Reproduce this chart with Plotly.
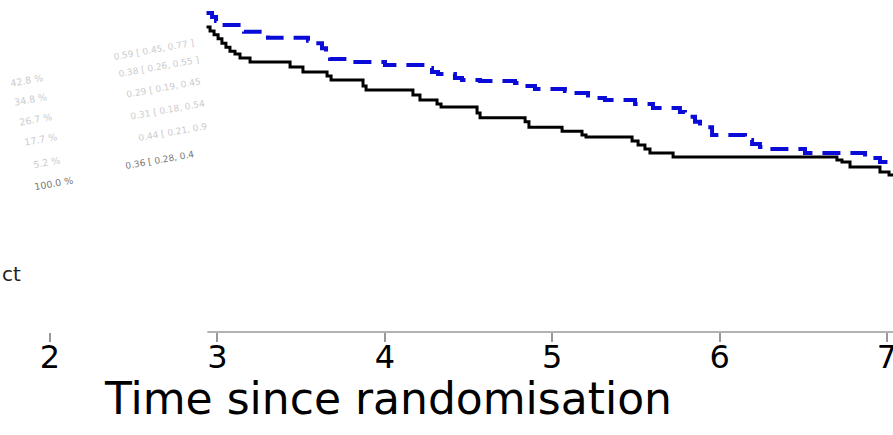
import plotly.graph_objects as go

# Kaplan-Meier style step data (time, survival)
black_t = [2.935, 2.956, 2.980, 3.004, 3.027, 3.051, 3.075, 3.105, 3.135, 3.195,
           3.434, 3.511, 3.655, 3.679, 3.870, 3.888, 4.168, 4.210, 4.312, 4.336,
           4.551, 4.569, 4.838, 4.861, 5.059, 5.178, 5.202, 5.477, 5.513, 5.554,
           5.584, 5.722, 6.701, 6.731, 6.779, 6.958, 7.012, 7.04]
black_s = [0.919, 0.907, 0.895, 0.883, 0.870, 0.858, 0.846, 0.837, 0.825, 0.813,
           0.798, 0.783, 0.771, 0.759, 0.741, 0.729, 0.714, 0.699, 0.687, 0.678,
           0.660, 0.645, 0.633, 0.617, 0.605, 0.593, 0.587, 0.575, 0.563, 0.551,
           0.539, 0.527, 0.518, 0.512, 0.497, 0.482, 0.473, 0.473]

blue_t = [2.935, 2.968, 2.992, 3.016, 3.159, 3.302, 3.541, 3.577, 3.625, 3.649,
          3.673, 3.804, 4.001, 4.258, 4.282, 4.318, 4.419, 4.461, 4.569, 4.778,
          4.838, 4.897, 5.076, 5.106, 5.214, 5.315, 5.495, 5.602, 5.763, 5.793,
          5.853, 5.883, 5.955, 6.152, 6.194, 6.241, 6.283, 6.510, 6.869, 6.958,
          7.01, 7.04]
blue_s = [0.961, 0.949, 0.937, 0.925, 0.904, 0.886, 0.877, 0.870, 0.855, 0.834,
          0.822, 0.813, 0.804, 0.795, 0.783, 0.777, 0.765, 0.759, 0.756, 0.750,
          0.741, 0.732, 0.726, 0.720, 0.705, 0.699, 0.687, 0.675, 0.663, 0.648,
          0.633, 0.617, 0.593, 0.578, 0.566, 0.557, 0.551, 0.539, 0.524, 0.512,
          0.509, 0.509]

tick_vals = [2, 3, 4, 5, 6, 7]
tick_text = ["2", "3", "4", "5", "6", "7"]

pct_labels = ["42.8 %", "34.8 %", "26.7 %", "17.7 %", "5.2 %", "100.0 %"]
hr_labels = ["0.59 [ 0.45, 0.77 ]", "0.38 [ 0.26, 0.55 ]", "0.29 [ 0.19, 0.45",
             "0.31 [ 0.18, 0.54", "0.44 [ 0.21, 0.9", "0.36 [ 0.28, 0.4"]

W, H = 893, 435
B = 103
PH = H - B

fig = go.Figure()
fig.add_trace(go.Scatter(x=blue_t, y=blue_s, mode="lines", line_shape="hv",
                         line=dict(color="#0b0bd8", width=4, dash="18px,10px"),
                         showlegend=False))
fig.add_trace(go.Scatter(x=black_t, y=black_s, mode="lines", line_shape="hv",
                         line=dict(color="black", width=3),
                         showlegend=False))

# partial axis line
fig.add_shape(type="line", xref="x", yref="paper", x0=2.94, x1=7.04, y0=0, y1=0,
              line=dict(color="#999999", width=1.5))

def px_x(p):
    return p / W

def px_y(p):
    return (PH - p) / PH

anns = []
pct_pos = [(26, 80), (30, 100), (35, 119), (40, 139), (46, 162), (53, 183)]
for i, (lab, (x, y)) in enumerate(zip(pct_labels, pct_pos)):
    anns.append(dict(x=px_x(x), y=px_y(y), xref="paper", yref="paper", text=lab,
                     showarrow=False, textangle=-10, xanchor="center", yanchor="middle",
                     font=dict(family="DejaVu Sans", size=9.5,
                               color="#777777" if i == 5 else "#cccccc")))
hr_pos = [(153, 50), (158, 67), (163, 88), (167, 110), (173, 132), (160, 160)]
for i, (lab, (x, y)) in enumerate(zip(hr_labels, hr_pos)):
    anns.append(dict(x=px_x(x), y=px_y(y), xref="paper", yref="paper", text=lab,
                     showarrow=False, textangle=-10, xanchor="center", yanchor="middle",
                     font=dict(family="DejaVu Sans", size=9,
                               color="#777777" if i == 5 else "#cccccc")))
anns.append(dict(x=px_x(23), y=px_y(274), xref="paper", yref="paper", text="ct",
                 xanchor="right", yanchor="middle", showarrow=False,
                 font=dict(family="DejaVu Sans", size=20, color="#222222")))
anns.append(dict(x=px_x(388), y=px_y(398), xref="paper", yref="paper",
                 text="Time since randomisation", showarrow=False,
                 xanchor="center", yanchor="middle",
                 font=dict(family="DejaVu Sans", size=44, color="black")))

fig.update_layout(
    width=W, height=H,
    margin=dict(l=0, r=0, t=0, b=B, autoexpand=False),
    paper_bgcolor="white", plot_bgcolor="white",
    annotations=anns,
    xaxis=dict(range=[1.7013, 7.0358], tickvals=tick_vals, ticktext=tick_text,
               ticks="outside", ticklen=9, tickcolor="#999999", tickwidth=1.5,
               ticklabelstandoff=-12, ticklabeloverflow="allow", automargin=False,
               showline=False, zeroline=False, showgrid=False,
               tickfont=dict(family="DejaVu Sans", size=32, color="black")),
    yaxis=dict(range=[0, 1], visible=False, showgrid=False, zeroline=False,
               automargin=False),
)

fig.write_html("out.html")
